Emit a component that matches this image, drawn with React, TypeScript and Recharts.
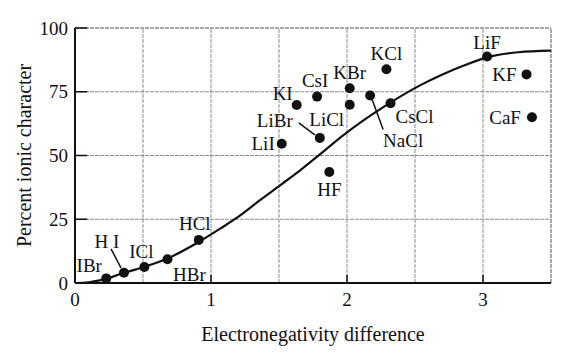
import React from 'react';
import { ComposedChart, Line, Scatter, XAxis, YAxis, ReferenceLine, Label } from 'recharts';

// compounds and their measured points
const compounds = ['IBr', 'H I', 'ICl', 'HBr', 'HCl', 'HF', 'LiI', 'KI', 'LiBr', 'CsI', 'KBr', 'LiCl', 'KCl', 'NaCl', 'CsCl', 'LiF', 'KF', 'CaF'];
const enDiff = [0.23, 0.36, 0.51, 0.68, 0.91, 1.87, 1.52, 1.63, 1.8, 1.78, 2.02, 2.02, 2.29, 2.17, 2.32, 3.03, 3.32, 3.36];
const ionicPct = [1.8, 4.0, 6.3, 9.3, 16.9, 43.5, 54.6, 69.8, 56.9, 73.1, 76.4, 69.9, 83.8, 73.5, 70.5, 88.8, 81.8, 65];

// the smooth curve, read along its path
const curveX = [0, 0.1, 0.2, 0.35, 0.5, 0.68, 0.9, 1.07, 1.22, 1.36, 1.51, 1.66, 1.81, 1.95, 2.1, 2.25, 2.4, 2.54, 2.69, 2.85, 3.03, 3.26, 3.5];
const curveY = [0, 0.3, 1.2, 3.8, 6.2, 9.6, 15.8, 21.4, 26.7, 32.5, 38.4, 44.4, 50.8, 57.0, 63.0, 68.4, 73.4, 77.6, 81.5, 85.1, 88.5, 90.5, 91.1];

const xTicks = [0, 1, 2, 3];
const yTicks = [0, 25, 50, 75, 100];
const xGrid = [0.5, 1, 1.5, 2, 2.5, 3];
const yGrid = [25, 50, 75];

const points = compounds.map((name, i) => ({ name, x: enDiff[i], y: ionicPct[i] }));
const curve = curveX.map((x, i) => ({ x, y: curveY[i] }));

// where each label sits relative to its dot (px)
type Place = { dx: number; dy: number; anchor?: 'start' | 'middle' | 'end'; line?: [number, number, number, number] };
const labelPlace: Record<string, Place> = {
  IBr: { dx: -17, dy: -13 },
  'H I': { dx: -17, dy: -31, line: [-13, -24, -3, -5] },
  ICl: { dx: -3, dy: -15 },
  HBr: { dx: 22, dy: 15 },
  HCl: { dx: -4, dy: -16 },
  HF: { dx: 0, dy: 17 },
  LiI: { dx: -7, dy: 0, anchor: 'end' },
  KI: { dx: -14, dy: -12 },
  LiBr: { dx: -45, dy: -17, line: [-21, -15, -5, -3] },
  CsI: { dx: -2, dy: -16 },
  KBr: { dx: 0, dy: -16 },
  LiCl: { dx: -23, dy: 15 },
  KCl: { dx: 0, dy: -16 },
  NaCl: { dx: 33, dy: 45, line: [2, 4, 13, 34] },
  CsCl: { dx: 24, dy: 13 },
  LiF: { dx: 0, dy: -14 },
  KF: { dx: -10, dy: 0, anchor: 'end' },
  CaF: { dx: -11, dy: 0, anchor: 'end' },
};

const FONT = '"Liberation Serif", "DejaVu Serif", serif';
const INK = '#111';
const GRID = '#8c8c8c';

const Dot = (props: any) => {
  const { cx, cy, payload } = props;
  const p = labelPlace[payload.name] || { dx: 0, dy: -15 };
  return (
    <g>
      {p.line && (
        <line x1={cx + p.line[0]} y1={cy + p.line[1]} x2={cx + p.line[2]} y2={cy + p.line[3]} stroke={INK} strokeWidth={1.5} />
      )}
      <circle cx={cx} cy={cy} r={5} fill={INK} />
      <text
        x={cx + p.dx}
        y={cy + p.dy}
        textAnchor={p.anchor || 'middle'}
        dominantBaseline="central"
        fontFamily={FONT}
        fontSize={19}
        fill={INK}
      >
        {payload.name}
      </text>
    </g>
  );
};

const YTitle = (props: any) => {
  const vb = props.viewBox;
  const cx = 24;
  const cy = vb.y + vb.height / 2;
  return (
    <text
      x={cx}
      y={cy}
      transform={`rotate(-90 ${cx} ${cy})`}
      textAnchor="middle"
      dominantBaseline="central"
      fontFamily={FONT}
      fontSize={20}
      fill={INK}
    >
      Percent ionic character
    </text>
  );
};

const tickStyle = { fontFamily: FONT, fontSize: 19, fill: INK };

export default function App() {
  return (
    <div style={{ position: 'absolute', left: 0, top: 0, background: '#fff' }}>
      <ComposedChart width={588} height={353} margin={{ top: 28, right: 37, bottom: 0, left: 0 }}>
        <XAxis
          dataKey="x"
          type="number"
          domain={[0, 3.5]}
          ticks={xTicks}
          allowDataOverflow
          height={70}
          tickLine={false}
          tickSize={0}
          tickMargin={10}
          axisLine={{ stroke: INK, strokeWidth: 2 }}
          tick={tickStyle}
        >
          <Label
            value="Electronegativity difference"
            position="insideBottom"
            offset={12}
            style={{ fontFamily: FONT, fontSize: 20, fill: INK }}
          />
        </XAxis>
        <YAxis
          dataKey="y"
          type="number"
          domain={[0, 100]}
          ticks={yTicks}
          allowDataOverflow
          width={75}
          tickLine={false}
          tickSize={0}
          tickMargin={7}
          axisLine={{ stroke: INK, strokeWidth: 2 }}
          tick={tickStyle}
        >
          <Label content={YTitle} />
        </YAxis>

        {xGrid.map((v) => (
          <ReferenceLine key={`gx${v}`} x={v} stroke={GRID} strokeWidth={1} strokeDasharray="4 1" />
        ))}
        {yGrid.map((v) => (
          <ReferenceLine key={`gy${v}`} y={v} stroke={GRID} strokeWidth={1} strokeDasharray="4 1" />
        ))}
        <ReferenceLine y={100} stroke={GRID} strokeWidth={1.5} strokeDasharray="4 1" />
        <ReferenceLine x={3.5} stroke={GRID} strokeWidth={1.5} strokeDasharray="4 1" />

        {xTicks.slice(1).map((v) => (
          <ReferenceLine key={`tx${v}`} segment={[{ x: v, y: 0 }, { x: v, y: 3.2 }]} stroke={INK} strokeWidth={1.5} />
        ))}
        {yTicks.slice(1).map((v) => (
          <ReferenceLine key={`ty${v}`} segment={[{ x: 0, y: v }, { x: 0.09, y: v }]} stroke={INK} strokeWidth={1.5} />
        ))}

        <Line
          data={curve}
          dataKey="y"
          type="monotone"
          stroke={INK}
          strokeWidth={2.2}
          dot={false}
          activeDot={false}
          isAnimationActive={false}
        />
        <Scatter data={points} dataKey="y" shape={<Dot />} isAnimationActive={false} />
      </ComposedChart>
    </div>
  );
}
